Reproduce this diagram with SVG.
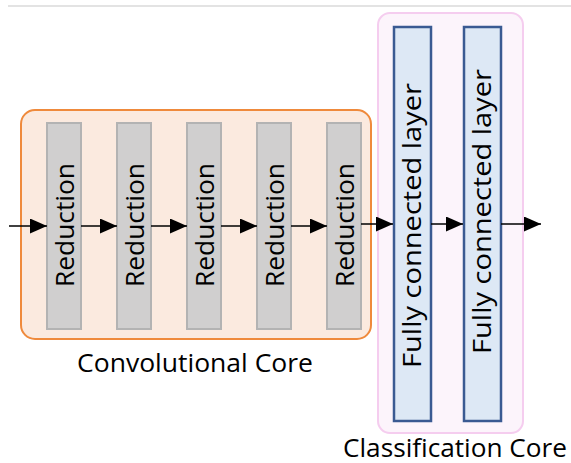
<svg xmlns="http://www.w3.org/2000/svg" width="571" height="463" viewBox="0 0 571 463">
  <style>
    .core-conv { fill: #fbeadf; stroke: #ef8a3c; stroke-width: 2; }
    .core-cls { fill: #fcf4fb; stroke: #f5cdef; stroke-width: 2; }
    .red { fill: #d0cfcf; stroke: #b3b3b3; stroke-width: 2; }
    .fc { fill: #dde8f5; stroke: #3a5a92; stroke-width: 2.5; }
    .lbl { font-family: "Open Sans", "DejaVu Sans", sans-serif; font-size: 26px; fill: #000; }
    .v { text-anchor: middle; }
    .edge { stroke: #000; stroke-width: 1.5; fill: none; marker-end: url(#head); }
  </style>
  <defs>
    <marker id="head" markerUnits="userSpaceOnUse" markerWidth="17" markerHeight="15" refX="17" refY="7.5" orient="auto">
      <path d="M0,0 L17,7.5 L0,15 Z" fill="#000"/>
    </marker>
  </defs>

  <rect width="571" height="463" fill="#fff"/>
  <line x1="8" y1="6" x2="571" y2="6" stroke="#c8c8c8" stroke-width="1.2"/>

  <!-- convolutional core -->
  <g id="conv-core">
    <rect class="core-conv" x="21" y="110" width="350" height="229" rx="14"/>
    <text class="lbl" x="195" y="372" text-anchor="middle" textLength="236" lengthAdjust="spacingAndGlyphs">Convolutional Core</text>
  </g>

  <!-- classification core -->
  <g id="cls-core">
    <rect class="core-cls" x="378" y="13" width="145" height="420" rx="12"/>
    <text class="lbl" x="455" y="457" text-anchor="middle" style="font-size:25px" textLength="224" lengthAdjust="spacingAndGlyphs">Classification Core</text>
  </g>

  <g id="red1">
    <rect class="red" x="47" y="123" width="34" height="206"/>
    <text class="lbl v" transform="translate(64,225) rotate(-90)" y="9.5" textLength="124" lengthAdjust="spacingAndGlyphs">Reduction</text>
  </g>
  <g id="red2">
    <rect class="red" x="117" y="123" width="34" height="206"/>
    <text class="lbl v" transform="translate(134,225) rotate(-90)" y="9.5" textLength="124" lengthAdjust="spacingAndGlyphs">Reduction</text>
  </g>
  <g id="red3">
    <rect class="red" x="187" y="123" width="34" height="206"/>
    <text class="lbl v" transform="translate(204,225) rotate(-90)" y="9.5" textLength="124" lengthAdjust="spacingAndGlyphs">Reduction</text>
  </g>
  <g id="red4">
    <rect class="red" x="257" y="123" width="34" height="206"/>
    <text class="lbl v" transform="translate(274,225) rotate(-90)" y="9.5" textLength="124" lengthAdjust="spacingAndGlyphs">Reduction</text>
  </g>
  <g id="red5">
    <rect class="red" x="327" y="123" width="34" height="206"/>
    <text class="lbl v" transform="translate(344,225) rotate(-90)" y="9.5" textLength="124" lengthAdjust="spacingAndGlyphs">Reduction</text>
  </g>

  <g id="fc1">
    <rect class="fc" x="394" y="27" width="37" height="394"/>
    <text class="lbl v" transform="translate(412,225.5) rotate(-90)" y="9" textLength="285" lengthAdjust="spacingAndGlyphs">Fully connected layer</text>
  </g>
  <g id="fc2">
    <rect class="fc" x="464" y="27" width="37" height="394"/>
    <text class="lbl v" transform="translate(482,211.5) rotate(-90)" y="9" textLength="285" lengthAdjust="spacingAndGlyphs">Fully connected layer</text>
  </g>

  <!-- connectors -->
  <g id="edges">
    <line class="edge" x1="9" y1="226" x2="47" y2="226"/>
    <line class="edge" x1="81" y1="226" x2="117" y2="226"/>
    <line class="edge" x1="151" y1="226" x2="187" y2="226"/>
    <line class="edge" x1="221" y1="226" x2="257" y2="226"/>
    <line class="edge" x1="291" y1="226" x2="327" y2="226"/>
    <line class="edge" x1="361" y1="224" x2="393" y2="224"/>
    <line class="edge" x1="431" y1="224" x2="463" y2="224"/>
    <line class="edge" x1="501" y1="224" x2="541" y2="224"/>
  </g>
</svg>
